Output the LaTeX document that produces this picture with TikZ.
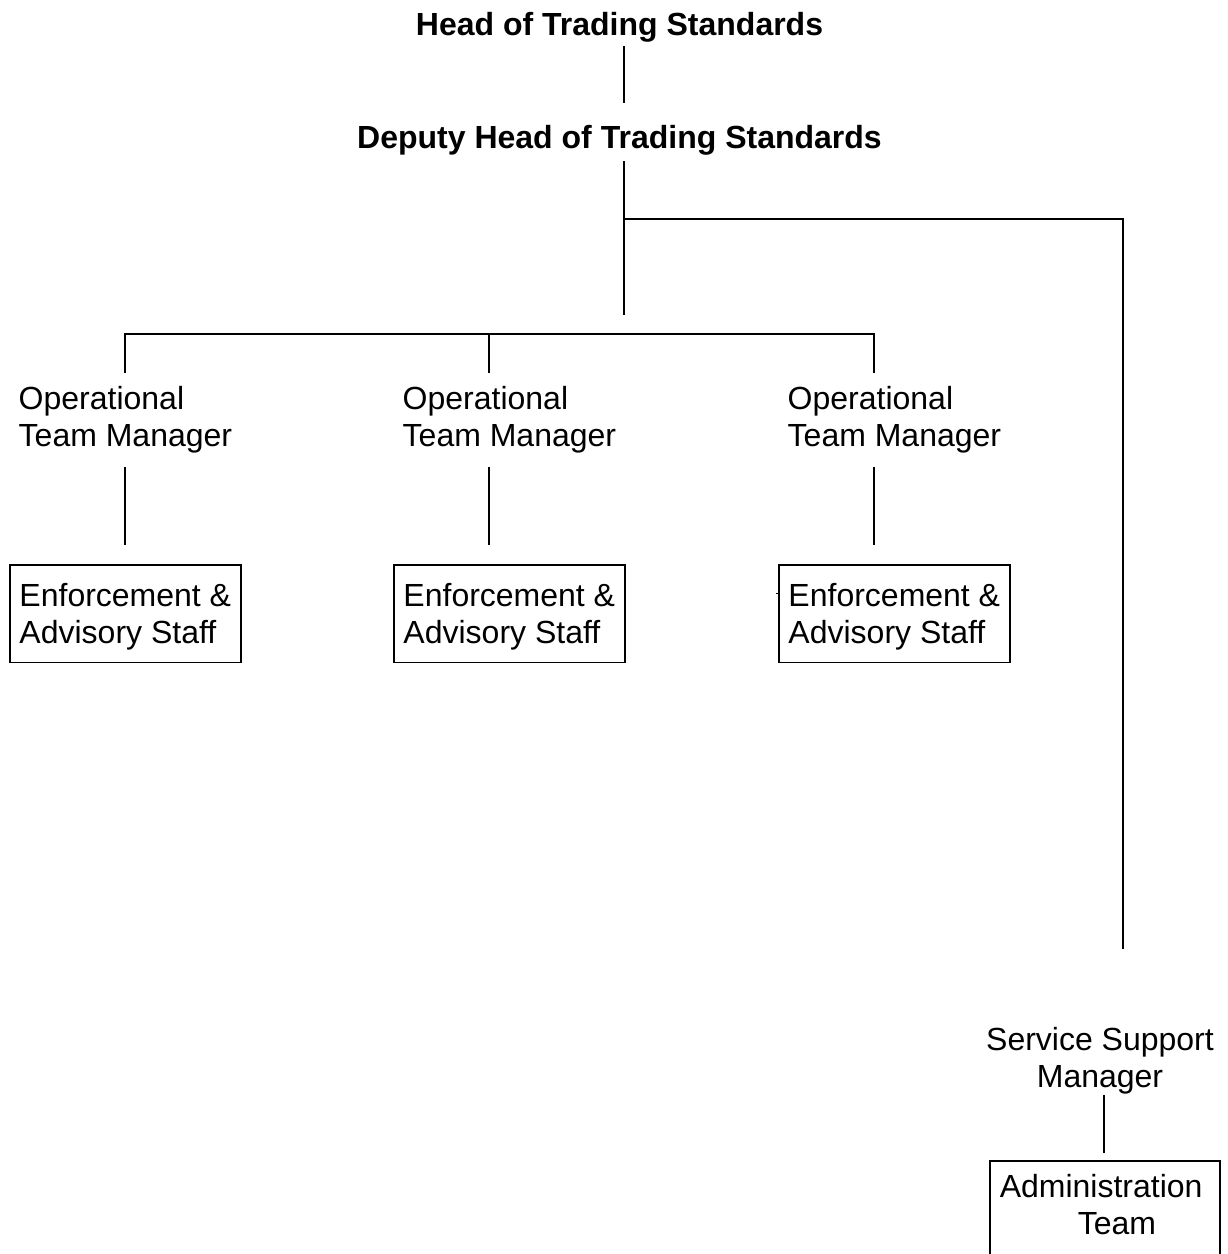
\documentclass[tikz,border=0pt]{standalone}
\usepackage{fontspec}
\setmainfont{Liberation Sans}
\begin{document}
\begin{tikzpicture}[x=1pt,y=-1pt,
  lbl/.style={inner sep=0pt,font=\fontsize{32pt}{36.5pt}\selectfont},
  ttl/.style={lbl,font=\fontsize{32pt}{36.5pt}\selectfont\bfseries,anchor=base},
  mgr/.style={lbl,align=left,anchor=base west},
  staffbox/.style={lbl,draw,line width=1.6pt,align=left,anchor=north west,minimum width=231pt,inner ysep=0pt},
  conn/.style={line width=2pt}]
\clip (0,0) rectangle (1228,1254);
\fill[white] (0,0) rectangle (1228,1254);
% nodes
\node[ttl] (head) at (619.5,35) {Head of Trading Standards};
\node[ttl] (deputy) at (619.5,148) {Deputy Head of Trading Standards};
\node[mgr] (otm1) at (18.5,446) {Operational\\Team Manager};
\node[mgr] (otm2) at (402.5,446) {Operational\\Team Manager};
\node[mgr] (otm3) at (787.5,446) {Operational\\Team Manager};
\node[staffbox] (eas1) at (9,564) {\rule{0pt}{42pt}Enforcement \&\\Advisory Staff\rule[-19pt]{0pt}{19pt}};
\node[staffbox] (eas2) at (393,564) {\rule{0pt}{42pt}Enforcement \&\\Advisory Staff\rule[-19pt]{0pt}{19pt}};
\node[staffbox] (eas3) at (778,564) {\rule{0pt}{42pt}Enforcement \&\\Advisory Staff\rule[-19pt]{0pt}{19pt}};
\node[lbl,align=center,anchor=base] (ssm) at (1100,1087) {Service Support\\Manager};
\node[lbl,draw,line width=1.6pt,align=left,anchor=north west,inner xsep=10pt,inner ysep=0pt,text width=210pt] (admin) at (989,1160) {\rule{0pt}{37pt}Administration\\\hspace*{78pt}Team\rule[-60pt]{0pt}{60pt}};
% connector end points
\coordinate (h1) at (624,46);   \coordinate (h2) at (624,103);
\coordinate (d1) at (624,161);  \coordinate (d2) at (624,315);
\coordinate (br) at (624,219);  \coordinate (brc) at (1123,219); \coordinate (bre) at (1123,949);
\coordinate (bl) at (125,334);  \coordinate (bm) at (489,334);  \coordinate (brr) at (874,334);
\coordinate (t1) at (125,373);  \coordinate (t2) at (489,373);  \coordinate (t3) at (874,373);
\coordinate (u1) at (125,467);  \coordinate (u2) at (489,467);  \coordinate (u3) at (874,467);
\coordinate (v1) at (125,545);  \coordinate (v2) at (489,545);  \coordinate (v3) at (874,545);
\coordinate (s1) at (1104,1095); \coordinate (s2) at (1104,1153);
\coordinate (k1) at (776,593);
% connectors
\draw[conn] (h1) -- (h2);
\draw[conn] (d1) -- (d2);
\draw[conn] (br) -- (brc) -- (bre);
\draw[conn] (t1) -- (bl) -- (brr) -- (t3);
\draw[conn] (bm) -- (t2);
\draw[conn] (u1) -- (v1);
\draw[conn] (u2) -- (v2);
\draw[conn] (u3) -- (v3);
\draw[conn] (s1) -- (s2);
\draw[line width=1pt] (k1) -- (eas3.west |- k1);
\end{tikzpicture}
\end{document}
